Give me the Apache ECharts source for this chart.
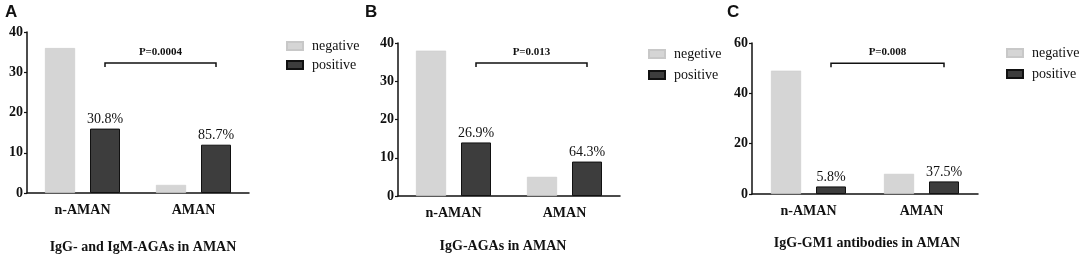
<!DOCTYPE html>
<html lang="en">
<head>
<meta charset="UTF-8">
<title>AGAs in AMAN</title>
<script src="https://cdn.jsdelivr.net/npm/echarts@6/dist/echarts.min.js"></script>
<style>
  html, body { margin: 0; padding: 0; background: #fff; }
  #chart { width: 1084px; height: 260px; }
</style>
</head>
<body>
<div id="chart"></div>
<script>
// data
const categories = ['n-AMAN', 'AMAN'];
const panelLetters = ['A', 'B', 'C'];
const panelTitles = ['IgG- and IgM-AGAs in AMAN', 'IgG-AGAs in AMAN', 'IgG-GM1 antibodies in AMAN'];
const negNames = ['negative', 'negetive', 'negative'];
const negA = [36, 2];
const posA = [16, 12];
const negB = [38, 5];
const posB = [14, 9];
const negC = [49, 8];
const posC = [3, 5];
const pctA = ['30.8%', '85.7%'];
const pctB = ['26.9%', '64.3%'];
const pctC = ['5.8%', '37.5%'];
const pValues = ['P=0.0004', 'P=0.013', 'P=0.008'];
const bracketY = [32.3, 34.8, 52];
const yMax = [40, 40, 60];
const yStep = [10, 10, 20];

const negData = [negA, negB, negC];
const posData = [posA, posB, posC];
const pctData = [pctA, pctB, pctC];

// layout of the three panels (pixels)
const grids = [
  { left: 27, top: 32, width: 222, height: 161 },
  { left: 398, top: 43, width: 222, height: 153 },
  { left: 752, top: 43, width: 226, height: 151 }
];
const legendPos = [
  { left: 281, top: 34, gap: 5 },
  { left: 643, top: 42, gap: 7 },
  { left: 1001, top: 41, gap: 7 }
];
const titlePos = [[143, 247], [503, 246], [867, 243]];
const letterPos = [[5, 4], [365, 4], [727, 4]];

const serif = '"Liberation Serif", "Times New Roman", serif';
const barW = 30;
const negColor = '#d5d5d5';
const posColor = '#3d3d3d';

const chart = echarts.init(document.getElementById('chart'));

const xAxes = [], yAxes = [], series = [], legends = [], graphics = [];
for (let i = 0; i < 3; i++) {
  xAxes.push({
    type: 'category', gridIndex: i, data: categories,
    axisLine: { lineStyle: { color: '#111', width: 1.5 } },
    axisTick: { alignWithLabel: true, length: 4, lineStyle: { color: '#111', width: 1.2 } },
    axisLabel: { margin: 10, color: '#111', fontFamily: serif, fontWeight: 'bold', fontSize: 14 }
  });
  yAxes.push({
    type: 'value', gridIndex: i, min: 0, max: yMax[i], interval: yStep[i],
    splitLine: { show: false },
    axisLine: { show: true, lineStyle: { color: '#111', width: 1.5 } },
    axisTick: { show: true, length: 3, lineStyle: { color: '#111', width: 1.2 } },
    axisLabel: { margin: 4, color: '#111', fontFamily: serif, fontWeight: 'bold', fontSize: 14 }
  });
  series.push({
    name: negNames[i], type: 'bar', xAxisIndex: i, yAxisIndex: i,
    data: negData[i], barWidth: barW, barGap: '50%',
    itemStyle: { color: negColor, borderColor: '#c8c8c8', borderWidth: 0.5 },
    silent: true
  });
  const pct = pctData[i];
  series.push({
    name: 'positive', type: 'bar', xAxisIndex: i, yAxisIndex: i,
    data: posData[i], barWidth: barW, barGap: '50%',
    itemStyle: { color: posColor, borderColor: '#111', borderWidth: 1 },
    label: {
      show: true, position: 'top', distance: 2,
      formatter: p => pct[p.dataIndex],
      fontFamily: serif, fontSize: 14, color: '#111'
    },
    silent: true
  });
  legends.push({
    orient: 'vertical', left: legendPos[i].left, top: legendPos[i].top,
    icon: 'rect', itemWidth: 16, itemHeight: 8, itemGap: legendPos[i].gap,
    data: [negNames[i], 'positive'],
    selectedMode: false,
    textStyle: { fontFamily: serif, fontSize: 14, color: '#111', lineHeight: 14, padding: [0, 0, 0, 4] }
  });
  graphics.push({
    type: 'text', left: letterPos[i][0], top: letterPos[i][1],
    style: { text: panelLetters[i], font: 'bold 17px "Liberation Sans", Arial, sans-serif', fill: '#111' }
  });
  graphics.push({
    type: 'text', x: titlePos[i][0], y: titlePos[i][1],
    style: {
      text: panelTitles[i], font: 'bold 14px ' + serif, fill: '#111',
      textAlign: 'center', textVerticalAlign: 'middle'
    }
  });
}

chart.setOption({
  animation: false,
  grid: grids,
  xAxis: xAxes,
  yAxis: yAxes,
  legend: legends,
  series: series,
  graphic: graphics
});

// significance brackets between the two positive bars
const offset = barW * 0.75; // half of (bar + gap)
for (let i = 0; i < 3; i++) {
  const p0 = chart.convertToPixel({ gridIndex: i }, [0, bracketY[i]]);
  const p1 = chart.convertToPixel({ gridIndex: i }, [1, bracketY[i]]);
  const x0 = p0[0] + offset, x1 = p1[0] + offset, y = p0[1];
  graphics.push({
    type: 'polyline',
    shape: { points: [[x0, y + 4], [x0, y], [x1, y], [x1, y + 4]] },
    style: { stroke: '#111', lineWidth: 1.5, fill: null }
  });
  graphics.push({
    type: 'text', x: (x0 + x1) / 2, y: y - 11,
    style: {
      text: pValues[i], font: 'bold 11px ' + serif, fill: '#111',
      textAlign: 'center', textVerticalAlign: 'middle'
    }
  });
}
chart.setOption({ graphic: graphics });
</script>
</body>
</html>
